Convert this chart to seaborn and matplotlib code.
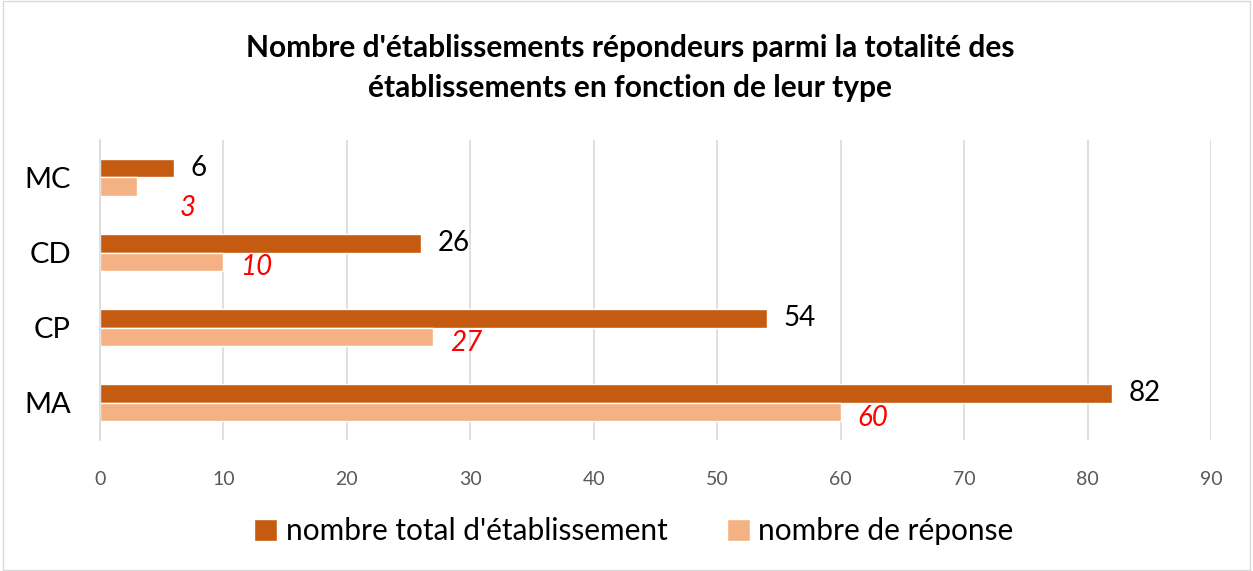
import seaborn as sns
import matplotlib.pyplot as plt
import pandas as pd

categories = ["MC", "CD", "CP", "MA"]
total = [6, 26, 54, 82]
reponses = [3, 10, 27, 60]
series_names = ["nombre total d'établissement", "nombre de réponse"]
colors = ["#C55A11", "#F4B183"]

df = pd.DataFrame({
    "type": categories * 2,
    "valeur": total + reponses,
    "serie": [series_names[0]] * len(categories) + [series_names[1]] * len(categories),
})

sns.set_theme(style="white")
plt.rcParams["font.family"] = ["Lato", "DejaVu Sans"]

fig = plt.figure(figsize=(12.53, 5.71), dpi=100)
ax = fig.add_axes([0.0798, 0.229, 0.8867, 0.526])

sns.barplot(
    data=df, x="valeur", y="type", hue="serie", order=categories,
    hue_order=series_names, palette=colors, width=0.5, orient="h",
    saturation=1, ax=ax, legend=True,
)

# data labels (Excel nudges the small "3" away from the "6")
dark, light = ax.containers[0], ax.containers[1]
for bar, v in zip(dark, dark.datavalues):
    y = bar.get_y() + bar.get_height() / 2
    ax.annotate(f"{int(v)}", (v, y), xytext=(12, 0), textcoords="offset points",
                ha="left", va="center", fontsize=20, color="black")
for i, (bar, v) in enumerate(zip(light, light.datavalues)):
    y = bar.get_y() + bar.get_height() / 2
    off = (31, -15) if i == 0 else (12, -4)
    ax.annotate(f"{int(v)}", (v, y), xytext=off, textcoords="offset points",
                ha="left", va="center", fontsize=20, color="red", style="italic")

ax.set_xlim(0, 90)
ax.set_ylim(3.5, -0.5)
ax.set_xticks(range(0, 91, 10))
ax.xaxis.grid(True, color="#d9d9d9", linewidth=1.2)
ax.set_axisbelow(True)
for s in ["top", "right", "bottom"]:
    ax.spines[s].set_visible(False)
ax.spines["left"].set_color("#d9d9d9")
ax.spines["left"].set_linewidth(1.2)
ax.tick_params(axis="x", labelsize=14, labelcolor="#595959", length=0, pad=22)
ax.tick_params(axis="y", labelsize=21, labelcolor="black", length=0, pad=21)
ax.set_xlabel("")
ax.set_ylabel("")

fig.suptitle("Nombre d'établissements répondeurs parmi la totalité des\nétablissements en fonction de leur type",
             x=0.503, y=0.94, va="top", fontsize=21.5, fontweight="bold",
             linespacing=1.5, color="black")

handles, labels = ax.get_legend_handles_labels()
ax.get_legend().remove()
fig.legend(handles, labels, loc="center", bbox_to_anchor=(0.506, 0.07), ncol=2,
           frameon=False, fontsize=21.5, handlelength=0.75, handleheight=0.75,
           columnspacing=2.0, handletextpad=0.3, labelcolor="black")

fig.patches.append(plt.Rectangle((0.002, 0.002), 0.996, 0.996, transform=fig.transFigure,
                                 fill=False, edgecolor="#d9d9d9", linewidth=1))

fig.savefig("out.png", dpi=100)
